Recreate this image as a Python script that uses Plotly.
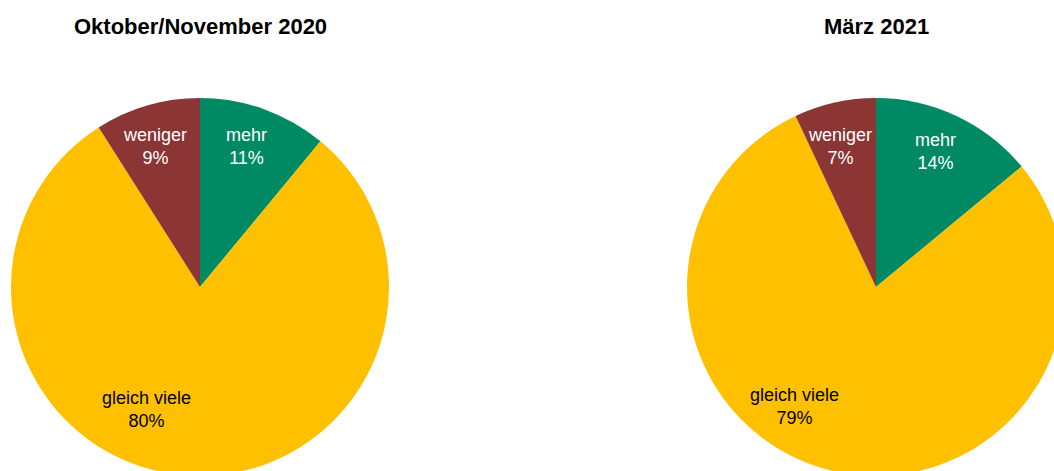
import plotly.graph_objects as go

categories = ["mehr", "gleich viele", "weniger"]
values_2020 = [11, 80, 9]
values_2021 = [14, 79, 7]
titles = ["Oktober/November 2020", "März 2021"]
colors = ["#008A63", "#FFC000", "#8B3535"]

W, H = 1070, 480
R = 189

def px_x(x):
    return x / W

def px_y(y):
    return 1 - y / H

fig = go.Figure()
centers = [(200, 287), (876, 287)]
for vals, (cx, cy) in zip([values_2020, values_2021], centers):
    fig.add_trace(go.Pie(
        labels=categories, values=vals, sort=False, direction="clockwise",
        rotation=0, textinfo="none", hoverinfo="label+percent",
        marker=dict(colors=colors, line=dict(width=0)),
        domain=dict(x=[px_x(cx - R), px_x(cx + R)], y=[px_y(cy + R), px_y(cy - R)]),
        showlegend=False,
    ))

# label positions (pixel), per pie per category
label_pos = [
    [(246, 146), (146, 409), (155, 146)],
    [(935, 151), (794, 406), (840, 146)],
]
text_colors = ["white", "black", "white"]
annotations = []
for vals, positions in zip([values_2020, values_2021], label_pos):
    for cat, v, (x, y), tc in zip(categories, vals, positions, text_colors):
        annotations.append(dict(
            x=px_x(x), y=px_y(y), xref="paper", yref="paper",
            text=f"{cat}<br>{v}%", showarrow=False,
            font=dict(family="Liberation Sans, Arial", size=18, color=tc),
            xanchor="center", yanchor="middle", align="center",
        ))
for t, (cx, cy) in zip(titles, centers):
    annotations.append(dict(
        x=px_x(cx), y=px_y(26), xref="paper", yref="paper",
        text=f"<b>{t}</b>", showarrow=False,
        font=dict(family="Liberation Sans, Arial", size=22, color="black"),
        xanchor="center", yanchor="middle",
    ))

fig.update_layout(
    width=W, height=H, margin=dict(l=0, r=0, t=0, b=0),
    paper_bgcolor="white", plot_bgcolor="white",
    annotations=annotations,
)

fig.write_html(
    "out.html",
    post_script="document.body.style.margin='0';document.body.style.overflow='hidden';document.documentElement.style.overflow='hidden';",
)
